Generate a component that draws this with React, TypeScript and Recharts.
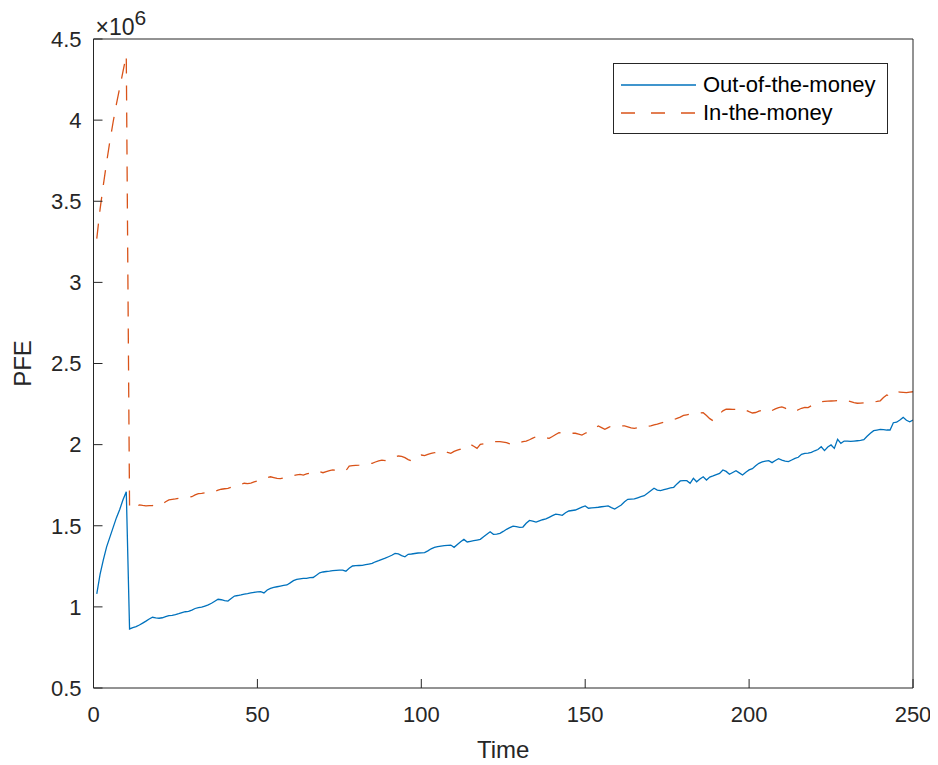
import React from "react";
import { LineChart, Line, XAxis, YAxis, Label, Legend } from "recharts";

// Simulation step of the first sample
const TIME_START = 1;

// Potential future exposure (in millions) per time step
const OUT_OF_THE_MONEY = [
  1.08, 1.20, 1.29, 1.37, 1.43, 1.49, 1.55, 1.60, 1.66, 1.71,
  0.864, 0.872, 0.878, 0.888, 0.900, 0.912, 0.925, 0.936, 0.932, 0.930,
  0.933, 0.940, 0.946, 0.948, 0.952, 0.958, 0.965, 0.970, 0.972, 0.980,
  0.990, 0.996, 0.998, 1.005, 1.012, 1.022, 1.035, 1.047, 1.044, 1.038,
  1.036, 1.052, 1.067, 1.070, 1.074, 1.079, 1.082, 1.086, 1.090, 1.093,
  1.094, 1.086, 1.104, 1.114, 1.120, 1.124, 1.128, 1.132, 1.135, 1.148,
  1.162, 1.170, 1.173, 1.176, 1.176, 1.180, 1.181, 1.195, 1.210, 1.215,
  1.218, 1.220, 1.223, 1.225, 1.227, 1.227, 1.220, 1.238, 1.252, 1.254,
  1.255, 1.256, 1.260, 1.264, 1.268, 1.278, 1.285, 1.293, 1.300, 1.309,
  1.318, 1.330, 1.326, 1.316, 1.309, 1.324, 1.326, 1.329, 1.332, 1.333,
  1.334, 1.345, 1.358, 1.366, 1.371, 1.374, 1.377, 1.379, 1.381, 1.367,
  1.385, 1.402, 1.416, 1.400, 1.404, 1.408, 1.412, 1.416, 1.432, 1.448,
  1.463, 1.447, 1.449, 1.453, 1.465, 1.478, 1.488, 1.498, 1.494, 1.490,
  1.492, 1.515, 1.533, 1.528, 1.523, 1.530, 1.537, 1.542, 1.552, 1.562,
  1.572, 1.568, 1.564, 1.580, 1.591, 1.594, 1.597, 1.606, 1.615, 1.622,
  1.608, 1.610, 1.612, 1.614, 1.617, 1.620, 1.622, 1.612, 1.603, 1.616,
  1.628, 1.648, 1.663, 1.664, 1.665, 1.672, 1.679, 1.685, 1.700, 1.716,
  1.731, 1.720, 1.716, 1.722, 1.728, 1.733, 1.737, 1.758, 1.776, 1.778,
  1.778, 1.762, 1.792, 1.771, 1.788, 1.802, 1.782, 1.800, 1.807, 1.815,
  1.823, 1.844, 1.835, 1.817, 1.828, 1.839, 1.826, 1.813, 1.830, 1.844,
  1.852, 1.870, 1.885, 1.893, 1.898, 1.901, 1.889, 1.902, 1.913, 1.905,
  1.898, 1.895, 1.905, 1.915, 1.922, 1.940, 1.946, 1.948, 1.952, 1.962,
  1.970, 1.987, 1.963, 1.985, 1.998, 1.977, 2.033, 2.008, 2.022, 2.022,
  2.020, 2.022, 2.024, 2.026, 2.030, 2.052, 2.070, 2.086, 2.090, 2.094,
  2.092, 2.090, 2.090, 2.135, 2.138, 2.152, 2.168, 2.150, 2.141, 2.152,
];

const IN_THE_MONEY = [
  3.27, 3.45, 3.60, 3.74, 3.87, 3.99, 4.10, 4.20, 4.30, 4.40,
  1.612, 1.605, 1.618, 1.628, 1.625, 1.623, 1.624, 1.624, 1.630, 1.638,
  1.634, 1.648, 1.659, 1.662, 1.665, 1.669, 1.671, 1.674, 1.677, 1.679,
  1.690, 1.698, 1.700, 1.703, 1.706, 1.705, 1.712, 1.719, 1.725, 1.728,
  1.731, 1.737, 1.741, 1.748, 1.755, 1.762, 1.760, 1.763, 1.770, 1.776,
  1.782, 1.790, 1.797, 1.802, 1.797, 1.792, 1.790, 1.795, 1.801, 1.807,
  1.810, 1.814, 1.817, 1.812, 1.819, 1.825, 1.832, 1.839, 1.833, 1.827,
  1.834, 1.840, 1.844, 1.843, 1.841, 1.840, 1.839, 1.868, 1.870, 1.872,
  1.874, 1.877, 1.880, 1.882, 1.885, 1.893, 1.900, 1.905, 1.902, 1.908,
  1.916, 1.924, 1.930, 1.928, 1.920, 1.908, 1.899, 1.915, 1.930, 1.936,
  1.932, 1.940, 1.946, 1.950, 1.955, 1.959, 1.962, 1.952, 1.946, 1.958,
  1.966, 1.972, 1.985, 1.996, 2.002, 1.990, 1.977, 2.002, 2.005, 2.010,
  2.015, 2.018, 2.019, 2.018, 2.016, 2.012, 2.004, 1.999, 2.005, 2.012,
  2.018, 2.022, 2.030, 2.040, 2.049, 2.048, 2.045, 2.042, 2.039, 2.050,
  2.062, 2.074, 2.070, 2.068, 2.069, 2.070, 2.070, 2.065, 2.059, 2.070,
  2.080, 2.090, 2.103, 2.115, 2.105, 2.094, 2.105, 2.115, 2.114, 2.114,
  2.115, 2.115, 2.110, 2.103, 2.100, 2.104, 2.108, 2.111, 2.113, 2.115,
  2.122, 2.127, 2.133, 2.138, 2.141, 2.147, 2.154, 2.162, 2.170, 2.180,
  2.184, 2.187, 2.189, 2.192, 2.195, 2.197, 2.180, 2.160, 2.147, 2.170,
  2.190, 2.208, 2.218, 2.218, 2.217, 2.218, 2.220, 2.222, 2.212, 2.203,
  2.195, 2.198, 2.206, 2.213, 2.206, 2.200, 2.210, 2.220, 2.228, 2.232,
  2.225, 2.216, 2.208, 2.203, 2.215, 2.224, 2.230, 2.228, 2.240, 2.252,
  2.261, 2.264, 2.266, 2.268, 2.269, 2.270, 2.272, 2.273, 2.275, 2.271,
  2.265, 2.259, 2.255, 2.256, 2.258, 2.259, 2.261, 2.264, 2.266, 2.270,
  2.290, 2.306, 2.298, 2.316, 2.326, 2.324, 2.322, 2.320, 2.323, 2.326,
];

const X_TICKS = [0, 50, 100, 150, 200, 250];
const Y_TICKS = [0.5, 1, 1.5, 2, 2.5, 3, 3.5, 4, 4.5];

const SERIES = [
  { key: "otm", name: "Out-of-the-money", color: "#0072BD", dash: undefined },
  { key: "itm", name: "In-the-money", color: "#D95319", dash: "15 12" },
];

const data = OUT_OF_THE_MONEY.map((v, i) => ({
  t: TIME_START + i,
  otm: v,
  itm: IN_THE_MONEY[i],
}));

const INK = "#262626";
const FONT = "'Liberation Sans', Arial, Helvetica, sans-serif";

function YTitle(props: any) {
  const vb = props.viewBox || {};
  const axisX = vb.x + vb.width;
  const cy = vb.y + vb.height / 2;
  return (
    <g fill={INK} fontFamily={FONT}>
      <text x={22} y={cy} transform={`rotate(-90 22 ${cy})`} textAnchor="middle" dominantBaseline="central" fontSize={24}>
        PFE
      </text>
      <text x={axisX + 2} y={vb.y - 4} fontSize={23}>
        ×10
        <tspan dy={-10} fontSize={21}>6</tspan>
      </text>
    </g>
  );
}

function XTitle(props: any) {
  const vb = props.viewBox || {};
  return (
    <text x={vb.x + vb.width / 2} y={758} textAnchor="middle" fill={INK} fontFamily={FONT} fontSize={24}>
      Time
    </text>
  );
}

function LegendBox() {
  return (
    <div
      style={{
        border: `1px solid ${INK}`,
        background: "#fff",
        padding: "7px 12px 6px 7px",
        fontFamily: FONT,
        fontSize: 22,
        color: "#000",
        lineHeight: "28px",
        whiteSpace: "nowrap",
      }}
    >
      {SERIES.map((s) => (
        <div key={s.key} style={{ display: "flex", alignItems: "center", height: 28 }}>
          <svg width={82} height={28} style={{ display: "block" }}>
            <line x1={0} y1={14} x2={75} y2={14} stroke={s.color} strokeWidth={1.3} strokeDasharray={s.dash ? "14 16" : undefined} />
          </svg>
          <span>{s.name}</span>
        </div>
      ))}
    </div>
  );
}

export default function App() {
  return (
    <div style={{ fontFamily: FONT, margin: "-8px 0 0 -8px", width: 938, height: 765 }}>
      <LineChart width={938} height={765} data={data} margin={{ top: 38, right: 24, left: 28, bottom: 0 }}>
        <XAxis
          dataKey="t"
          type="number"
          domain={[0, 250]}
          ticks={X_TICKS}
          allowDataOverflow
          height={77}
          stroke={INK}
          tickSize={-9}
          tickMargin={27}
          tick={{ fill: INK, fontSize: 22, fontFamily: FONT }}
        >
          <Label content={XTitle} />
        </XAxis>
        <XAxis
          xAxisId="top"
          orientation="top"
          dataKey="t"
          type="number"
          domain={[0, 250]}
          ticks={X_TICKS}
          allowDataOverflow
          height={1}
          stroke={INK}
          tickSize={-9}
          tick={false}
        />
        <YAxis
          type="number"
          domain={[0.5, 4.5]}
          ticks={Y_TICKS}
          allowDataOverflow
          width={65.5}
          stroke={INK}
          tickSize={-9}
          tickMargin={21}
          tick={{ fill: INK, fontSize: 22, fontFamily: FONT }}
        >
          <Label content={YTitle} />
        </YAxis>
        <YAxis
          yAxisId="right"
          orientation="right"
          type="number"
          domain={[0.5, 4.5]}
          ticks={Y_TICKS}
          allowDataOverflow
          width={1}
          stroke={INK}
          tickSize={-9}
          tick={false}
        />
        <Legend
          layout="horizontal"
          verticalAlign="middle"
          align="center"
          content={LegendBox}
          wrapperStyle={{ left: 613, top: 63, width: "auto", height: "auto" }}
        />
        {SERIES.map((s) => (
          <Line
            key={s.key}
            type="linear"
            dataKey={s.key}
            name={s.name}
            stroke={s.color}
            strokeWidth={1.3}
            strokeDasharray={s.dash}
            dot={false}
            activeDot={false}
            isAnimationActive={false}
          />
        ))}
      </LineChart>
    </div>
  );
}
